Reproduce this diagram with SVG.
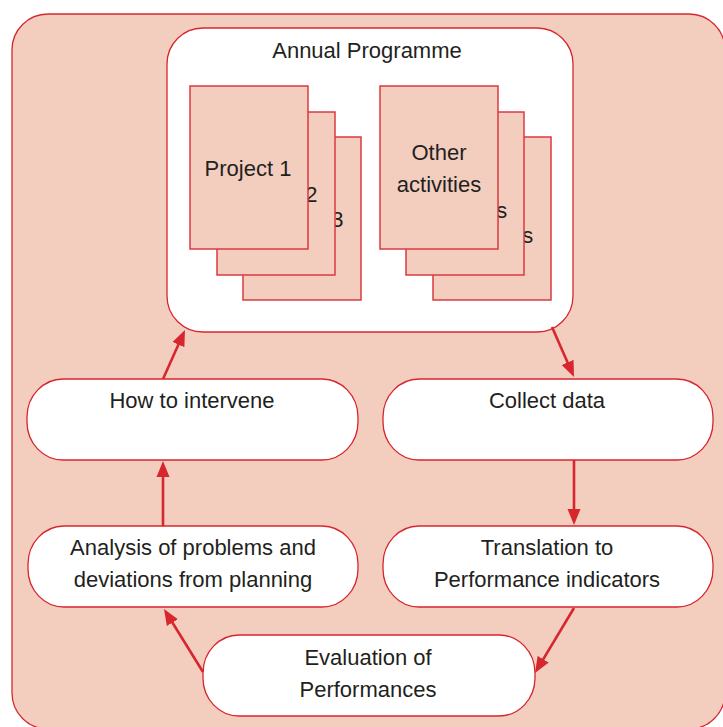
<svg xmlns="http://www.w3.org/2000/svg" width="723" height="727" viewBox="0 0 723 727">
<defs>
<style>
.bg{fill:#f3cebf;stroke:#d7262e;stroke-width:1.3}
.box{fill:#ffffff;stroke:#d7262e;stroke-width:1.3}
.page{fill:#f3cebf;stroke:#da3a40;stroke-width:1.5}
text{font-family:"Liberation Sans",Arial,sans-serif;font-size:22px;fill:#231f20;text-anchor:middle}
.conn{stroke:#d7262e;stroke-width:2.6;fill:none}
</style>
<marker id="ah" markerUnits="userSpaceOnUse" markerWidth="16" markerHeight="14" refX="8" refY="6.5" orient="auto" viewBox="0 0 16 13">
<path d="M0,0 L16,6.5 L0,13 z" fill="#d7262e"/>
</marker>
</defs>
<rect class="bg" x="12" y="14" width="713" height="715" rx="36" ry="36"/>
<g id="annual">
<rect class="box" x="167" y="28" width="406" height="304" rx="36" ry="36"/>
<text x="367" y="58">Annual Programme</text>
<g id="project3"><rect class="page" x="243" y="137" width="118" height="163"/><text x="300" y="227">Project 3</text></g>
<g id="project2"><rect class="page" x="217" y="112" width="118" height="163"/><text x="274" y="202">Project 2</text></g>
<g id="project1"><rect class="page" x="190" y="86" width="118" height="163"/><text x="248" y="176">Project 1</text></g>
<g id="other3"><rect class="page" x="433" y="137" width="118" height="163"/><text x="491" y="243">activities</text></g>
<g id="other2"><rect class="page" x="406" y="112" width="118" height="163"/><text x="465" y="218">activities</text></g>
<g id="other1"><rect class="page" x="380" y="86" width="118" height="163"/><text x="439" y="160">Other</text><text x="439" y="192">activities</text></g>
</g>
<g id="intervene"><rect class="box" x="27" y="379" width="331" height="81" rx="36" ry="38"/><text x="192" y="408">How to intervene</text></g>
<g id="collect"><rect class="box" x="383" y="379" width="330" height="81" rx="36" ry="38"/><text x="547" y="408">Collect data</text></g>
<g id="analysis"><rect class="box" x="28" y="526" width="330" height="81" rx="36" ry="38"/><text x="193" y="555">Analysis of problems and</text><text x="193" y="587">deviations from planning</text></g>
<g id="translation"><rect class="box" x="383" y="526" width="330" height="81" rx="36" ry="38"/><text x="547" y="555">Translation to</text><text x="547" y="587">Performance indicators</text></g>
<g id="evaluation"><rect class="box" x="203" y="635" width="332" height="81" rx="36" ry="38"/><text x="368" y="665">Evaluation of</text><text x="368" y="697">Performances</text></g>
<g id="connectors">
<line class="conn" x1="163" y1="379" x2="181.7" y2="337.3" marker-end="url(#ah)"/>
<line class="conn" x1="552" y1="327" x2="570.8" y2="369.7" marker-end="url(#ah)"/>
<line class="conn" x1="574" y1="460" x2="574" y2="517" marker-end="url(#ah)"/>
<line class="conn" x1="163" y1="526" x2="163" y2="469" marker-end="url(#ah)"/>
<line class="conn" x1="574" y1="608" x2="539.1" y2="666.1" marker-end="url(#ah)"/>
<line class="conn" x1="203" y1="672" x2="168.2" y2="615.8" marker-end="url(#ah)"/>
</g>
</svg>
